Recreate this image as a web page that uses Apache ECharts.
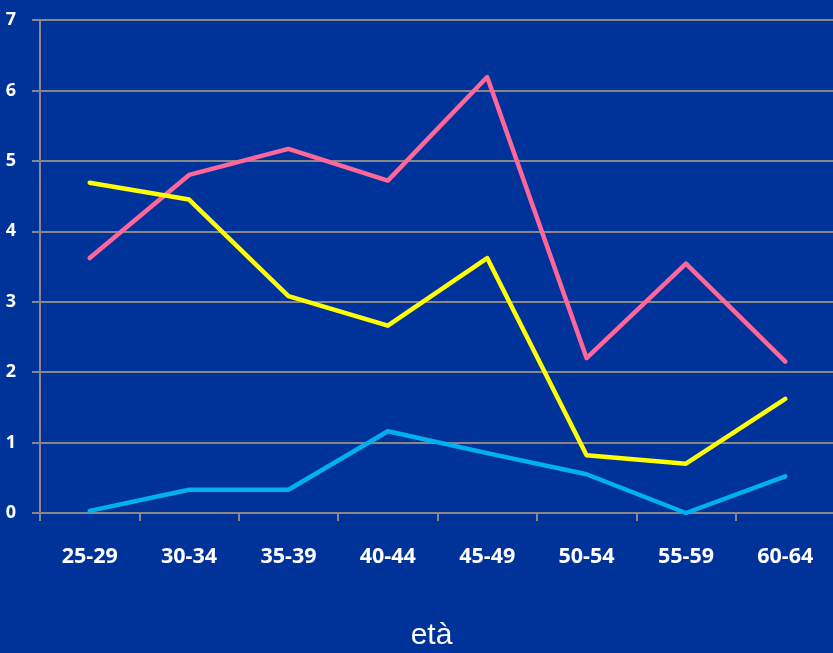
<!DOCTYPE html>
<html><head><meta charset="utf-8">
<script src="https://cdn.jsdelivr.net/npm/echarts@6/dist/echarts.min.js"></script>
<style>html,body{margin:0;padding:0;background:#003399;}#c{width:833px;height:653px;}</style>
</head><body><div id="c"></div>
<script>
var categories = ['25-29','30-34','35-39','40-44','45-49','50-54','55-59','60-64'];
var pinkValues = [3.62, 4.80, 5.17, 4.72, 6.19, 2.20, 3.54, 2.15];
var yellowValues = [4.69, 4.45, 3.08, 2.66, 3.62, 0.82, 0.70, 1.62];
var cyanValues = [0.03, 0.33, 0.33, 1.16, 0.85, 0.55, 0.00, 0.52];
var xAxisTitle = 'età';

var chart = echarts.init(document.getElementById('c'));
function line(data, color) {
  return { type: 'line', data: data, symbol: 'none', lineStyle: { color: color, width: 4.5, cap: 'round', join: 'round' }, itemStyle: { color: color }, animation: false };
}
chart.setOption({
  backgroundColor: '#003399',
  animation: false,
  grid: { left: 40, top: 20, width: 795, bottom: 140, containLabel: false, outerBoundsMode: 'none' },
  xAxis: {
    type: 'category', data: categories, boundaryGap: true,
    axisLine: { show: true, lineStyle: { color: '#888888', width: 2 } },
    axisTick: { show: true, length: 8, lineStyle: { color: '#888888', width: 2 } },
    axisLabel: { color: '#ffffff', fontWeight: 'bold', fontSize: 21.5, fontFamily: 'Open Sans', margin: 33 },
    name: xAxisTitle, nameLocation: 'middle', nameGap: 108,
    nameTextStyle: { color: '#ffffff', fontSize: 30, fontFamily: 'Liberation Sans', padding: [0, 12, 0, 0] },
    splitLine: { show: false }
  },
  yAxis: {
    type: 'value', min: 0, max: 7, interval: 1,
    axisLine: { show: true, lineStyle: { color: '#888888', width: 2 } },
    axisTick: { show: true, length: 8, lineStyle: { color: '#888888', width: 2 } },
    axisLabel: { color: '#ffffff', fontWeight: 'bold', fontSize: 18, fontFamily: 'Open Sans', margin: 24 },
    splitLine: { show: true, lineStyle: { color: '#888888', width: 2 } }
  },
  series: [line(pinkValues, '#FF6699'), line(yellowValues, '#FFFF00'), line(cyanValues, '#00B0F0')]
});
</script></body></html>
